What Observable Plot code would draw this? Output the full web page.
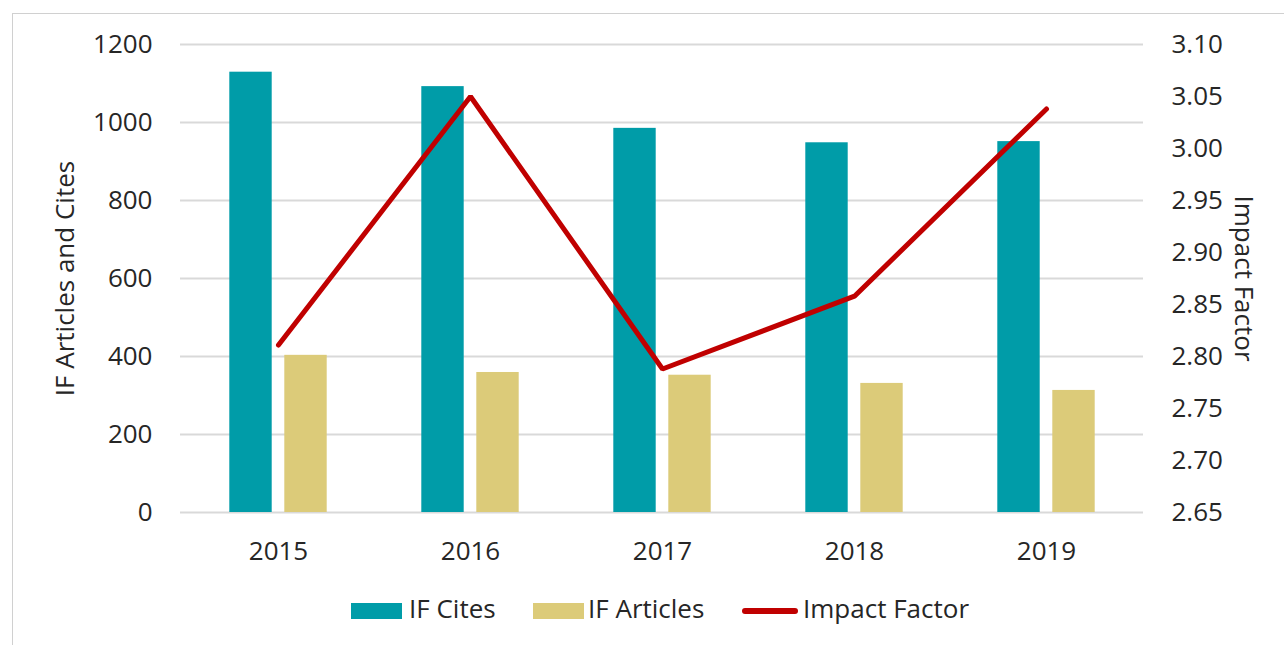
<!DOCTYPE html>
<html>
<head>
<meta charset="utf-8">
<script src="https://cdn.jsdelivr.net/npm/d3@7"></script>
<script src="https://cdn.jsdelivr.net/npm/@observablehq/plot@0.6"></script>
<style>
  html, body { margin: 0; padding: 0; background: #fff; }
  body { width: 1284px; height: 645px; overflow: hidden; position: relative; font-family: "Open Sans", sans-serif; }
  #frame { position: absolute; left: 12px; top: 13px; width: 1290px; height: 650px; border-left: 1.5px solid #d0d0d0; border-top: 1.5px solid #d0d0d0; }
  #chart { position: absolute; left: 0; top: 0; }
  #legend { position: absolute; left: 0; top: 0; width: 1284px; height: 645px; font-size: 26px; color: #262626; }
  .sw { position: absolute; top: 603px; width: 51px; height: 16px; }
  .ln { position: absolute; top: 608px; width: 56px; height: 6px; border-radius: 3px; }
  .lt { position: absolute; top: 590px; line-height: 36px; white-space: nowrap; }
</style>
</head>
<body>
<div id="frame"></div>
<div id="chart"></div>
<div id="legend"></div>
<script>
const years = ["2015", "2016", "2017", "2018", "2019"];
const ifCites = [1129, 1092, 985, 948, 951];
const ifArticles = [403, 359, 352, 331, 313];
const impactFactor = [2.811, 3.050, 2.788, 2.858, 3.038];
const leftTicks = [0, 200, 400, 600, 800, 1000, 1200];
const rightTickLabels = ["2.65", "2.70", "2.75", "2.80", "2.85", "2.90", "2.95", "3.00", "3.05", "3.10"];
const seriesNames = ["IF Cites", "IF Articles", "Impact Factor"];
const colors = ["#009ca8", "#dccb79", "#c00000"];

const W = 1284, H = 580, ml = 180, mr = 141, mt = 44, mb = 68;
const ifMin = 2.65, ifMax = 3.10, leftMax = 1200;
const toLeft = v => (v - ifMin) / (ifMax - ifMin) * leftMax;

const rows = years.map((y, i) => ({year: y, cites: ifCites[i], articles: ifArticles[i], ifv: toLeft(impactFactor[i])}));
const rightTicks = rightTickLabels.map(s => toLeft(+s));

const bw = (W - ml - mr) / years.length;
const barW = 43, gap = 12;
const near = bw / 2 + gap / 2, far = bw / 2 - gap / 2 - barW;

const font = "Open Sans, sans-serif";
const ink = "#262626";
const plot = Plot.plot({
  width: W, height: H,
  marginLeft: ml, marginRight: mr, marginTop: mt, marginBottom: mb,
  style: {fontFamily: font, fontSize: "26px", color: ink, background: "transparent", overflow: "visible"},
  x: {domain: years, padding: 0},
  y: {domain: [0, leftMax]},
  marks: [
    Plot.ruleY(leftTicks, {stroke: "#d9d9d9", strokeWidth: 2}),
    Plot.barY(rows, {x: "year", y: "cites", fill: colors[0], insetLeft: far, insetRight: near}),
    Plot.barY(rows, {x: "year", y: "articles", fill: colors[1], insetLeft: near, insetRight: far}),
    Plot.line(rows, {x: "year", y: "ifv", stroke: colors[2], strokeWidth: 5, strokeLinecap: "round", strokeLinejoin: "miter"}),
    Plot.axisY({anchor: "left", ticks: leftTicks, tickFormat: d => String(d), tickSize: 0, tickPadding: 28, label: null, fill: ink}),
    Plot.axisY({anchor: "right", ticks: rightTicks, tickFormat: (d, i) => rightTickLabels[i], tickSize: 0, tickPadding: 28, label: null, fill: ink}),
    Plot.axisX({anchor: "bottom", tickSize: 0, tickPadding: 29, label: null, fill: ink}),
    Plot.text(["IF Articles and Cites"], {frameAnchor: "left", textAnchor: "middle", dx: -115, rotate: -90, fill: ink, fontSize: 26}),
    Plot.text(["Impact Factor"], {frameAnchor: "right", textAnchor: "middle", dx: 100, rotate: 90, fill: ink, fontSize: 26})
  ]
});
document.getElementById("chart").appendChild(plot);

const legend = document.getElementById("legend");
const swLeft = [351, 533, 742];
const txtLeft = [409, 588, 803];
seriesNames.forEach((name, i) => {
  const sw = document.createElement("div");
  sw.className = i < 2 ? "sw" : "ln";
  sw.style.background = colors[i];
  sw.style.left = swLeft[i] + "px";
  const t = document.createElement("div");
  t.className = "lt";
  t.textContent = name;
  t.style.left = txtLeft[i] + "px";
  legend.appendChild(sw);
  legend.appendChild(t);
});
</script>
</body>
</html>
